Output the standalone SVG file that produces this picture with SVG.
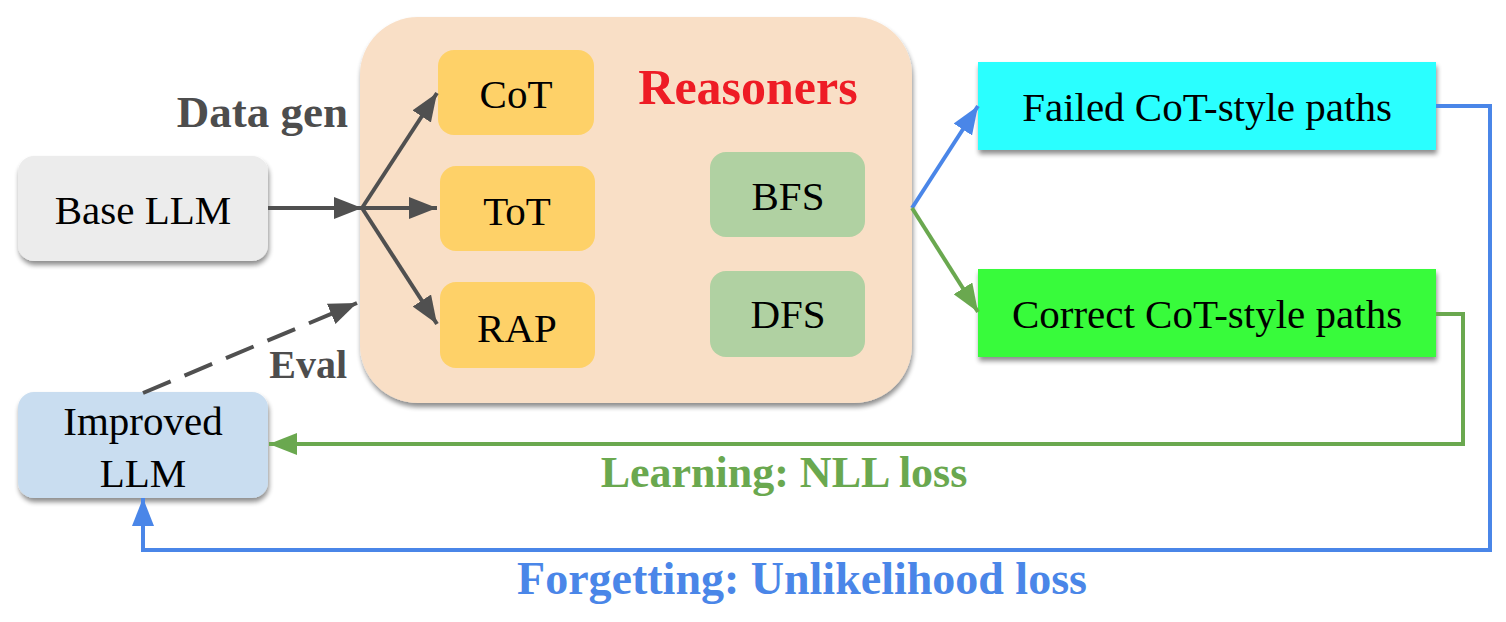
<svg xmlns="http://www.w3.org/2000/svg" width="1506" height="622" viewBox="0 0 1506 622">
<style>
  .t { font-family: "Liberation Serif", "Times New Roman", serif; font-weight: normal; fill: #000000; text-anchor: middle; font-size: 41px; }
  .lbl { font-family: "Liberation Serif", "Times New Roman", serif; font-weight: bold; }
  .gray { stroke: #505050; stroke-width: 4; fill: none; }
  .blue { stroke: #4a86e8; stroke-width: 4; fill: none; }
  .green { stroke: #6aa84f; stroke-width: 4; fill: none; }
</style>
<defs>
  <filter id="sh" x="-10%" y="-10%" width="125%" height="130%">
    <feGaussianBlur in="SourceAlpha" stdDeviation="2.5"/>
    <feOffset dx="1" dy="4" result="o"/>
    <feComponentTransfer><feFuncA type="linear" slope="0.45"/></feComponentTransfer>
    <feMerge><feMergeNode/><feMergeNode in="SourceGraphic"/></feMerge>
  </filter>
  <marker id="ag" markerUnits="userSpaceOnUse" markerWidth="30" markerHeight="22" refX="28" refY="11" orient="auto">
    <path d="M0,0 L28,11 L0,22 Z" fill="#505050"/>
  </marker>
  <marker id="ab" markerUnits="userSpaceOnUse" markerWidth="30" markerHeight="22" refX="28" refY="11" orient="auto">
    <path d="M0,0 L28,11 L0,22 Z" fill="#4a86e8"/>
  </marker>
  <marker id="agr" markerUnits="userSpaceOnUse" markerWidth="30" markerHeight="22" refX="28" refY="11" orient="auto">
    <path d="M0,0 L28,11 L0,22 Z" fill="#6aa84f"/>
  </marker>
</defs>
<rect width="1506" height="622" fill="#ffffff"/>

<g id="reasoners">
  <rect x="360" y="17" width="552" height="386" rx="58" fill="#f9dfc6" filter="url(#sh)"/>
  <text class="lbl" x="748" y="104" font-size="50" fill="#ee1c25" text-anchor="middle">Reasoners</text>
</g>
<g id="cot">
  <rect x="438" y="50" width="156" height="85" rx="16" fill="#fed168"/>
  <text class="t" font-family="Liberation Serif, serif" x="516" y="108">CoT</text>
</g>
<g id="tot">
  <rect x="440" y="166" width="155" height="85" rx="16" fill="#fed168"/>
  <text class="t" font-family="Liberation Serif, serif" x="517" y="225">ToT</text>
</g>
<g id="rap">
  <rect x="440" y="282" width="155" height="86" rx="16" fill="#fed168"/>
  <text class="t" font-family="Liberation Serif, serif" x="517" y="342">RAP</text>
</g>
<g id="bfs">
  <rect x="710" y="152" width="155" height="85" rx="16" fill="#b0d1a2"/>
  <text class="t" font-family="Liberation Serif, serif" x="788" y="210">BFS</text>
</g>
<g id="dfs">
  <rect x="710" y="271" width="155" height="86" rx="16" fill="#b0d1a2"/>
  <text class="t" font-family="Liberation Serif, serif" x="788" y="328">DFS</text>
</g>

<g id="base-llm">
  <rect x="18" y="156" width="250" height="105" rx="16" fill="#ececec" filter="url(#sh)"/>
  <text class="t" font-family="Liberation Serif, serif" x="143" y="224">Base LLM</text>
</g>
<g id="improved-llm">
  <rect x="18" y="392" width="250" height="106" rx="16" fill="#c9ddf0" filter="url(#sh)"/>
  <text class="t" font-family="Liberation Serif, serif" x="143" y="435">Improved</text>
  <text class="t" font-family="Liberation Serif, serif" x="143" y="487">LLM</text>
</g>
<g id="failed">
  <rect x="978" y="62" width="458" height="88" fill="#2cffff" filter="url(#sh)"/>
  <text class="t" font-family="Liberation Serif, serif" x="1207" y="121">Failed CoT-style paths</text>
</g>
<g id="correct">
  <rect x="978" y="269" width="458" height="88" fill="#39fb3a" filter="url(#sh)"/>
  <text class="t" font-family="Liberation Serif, serif" x="1207" y="328">Correct CoT-style paths</text>
</g>

<g id="connectors">
  <line class="gray" x1="268" y1="208" x2="362" y2="208" marker-end="url(#ag)"/>
  <line class="gray" x1="362" y1="208" x2="437" y2="93" marker-end="url(#ag)"/>
  <line class="gray" x1="362" y1="208" x2="437" y2="208" marker-end="url(#ag)"/>
  <line class="gray" x1="362" y1="208" x2="437" y2="324" marker-end="url(#ag)"/>
  <line class="gray" x1="143" y1="393" x2="357" y2="303" stroke-dasharray="30,15" marker-end="url(#ag)"/>
  <line class="blue" x1="912" y1="208" x2="978" y2="106" marker-end="url(#ab)"/>
  <line class="green" x1="912" y1="208" x2="978" y2="312" marker-end="url(#agr)"/>
  <polyline class="blue" points="1436,106 1490,106 1490,550 143,550 143,498" marker-end="url(#ab)"/>
  <polyline class="green" points="1436,314 1463,314 1463,444 269,444" marker-end="url(#agr)"/>
</g>

<g id="labels">
  <text class="lbl" x="348" y="127" font-size="45" fill="#4d4d4d" text-anchor="end">Data gen</text>
  <text class="lbl" x="347" y="378" font-size="40" fill="#4d4d4d" text-anchor="end">Eval</text>
  <text class="lbl" x="784" y="487" font-size="44" fill="#6aa84f" text-anchor="middle">Learning: NLL loss</text>
  <text class="lbl" x="802" y="594" font-size="46" fill="#4a86e8" text-anchor="middle">Forgetting: Unlikelihood loss</text>
</g>
</svg>
